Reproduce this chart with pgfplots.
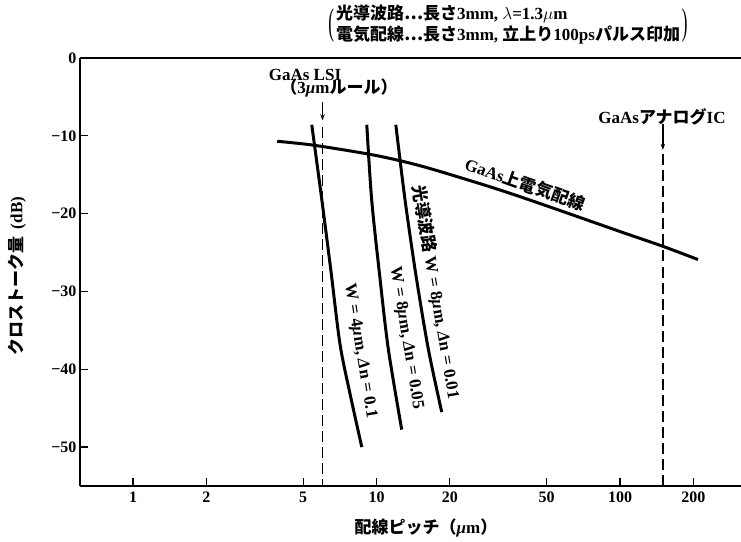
\documentclass[border=0pt]{standalone}
\usepackage{fontspec}
\setmainfont{Liberation Serif}
\newfontfamily\jp{Noto Sans CJK JP}
\usepackage{graphicx}
\usepackage{pgfplots}
\pgfplotsset{compat=1.18}
\usetikzlibrary{arrows.meta}
\newcommand{\J}[1]{{\jp\bfseries #1}}
\newcommand{\fs}{\fontsize{17}{20}\selectfont}
\newcommand{\ft}{\fontsize{16}{19}\selectfont}
\newcommand{\bigpar}[1]{\vcenter{\hbox{\scalebox{1}[2.2]{\mdseries #1}}}}
\begin{document}
\begin{tikzpicture}
\useasboundingbox (-80pt,-55pt) rectangle (661pt,486pt);
\begin{axis}[
  at={(0pt,0pt)}, anchor=south west,
  scale only axis, width=661pt, height=428pt,
  xmode=log, xmin=0.6056, xmax=314,
  ymin=-55, ymax=0,
  axis lines*=left,
  axis line style={line width=1.7pt,-},
  xtick={1,2,5,10,20,50,100,200},
  xticklabels={1,2,5,10,20,50,100,200},
  minor xtick={},
  ytick={-50,-40,-30,-20,-10,0},
  yticklabels={−50,−40,−30,−20,−10,0},
  tick align=inside,
  major tick length=8pt,
  tick style={line width=1.3pt, black},
  ticklabel style={font=\ft\bfseries},
  xticklabel style={yshift=-2pt},
  clip=false,
]
% electric wiring on GaAs
\addplot[line width=3pt, smooth, tension=0.5] coordinates {
 (3.91,-10.7) (5.5,-11.2) (9.1,-12.3) (12.5,-13.2) (17,-14.3) (31,-16.8)
 (50,-19.0) (100,-22.3) (150,-24.2) (209,-25.9)};
% optical waveguides
\addplot[line width=3pt, smooth, tension=0.5] coordinates {
 (5.42,-8.58) (5.96,-18.19) (6.50,-27.4) (7.08,-36.77) (7.79,-43.2) (8.70,-50.0)};
\addplot[line width=3pt, smooth, tension=0.5] coordinates {
 (9.12,-8.58) (9.55,-18.19) (10.29,-27.8) (11.18,-37.4) (12.69,-47.75)};
\addplot[line width=3pt, smooth, tension=0.5] coordinates {
 (12.0,-8.58) (13.09,-18.19) (14.5,-27.8) (16.32,-37.4) (18.53,-45.5)};
% markers of GaAs LSI and GaAs analog IC
\addplot[line width=1.6pt, -{Stealth[length=6pt,width=4.5pt]}] coordinates {(6,-5.6) (6,-8.0)};
\addplot[line width=1.7pt, dash pattern=on 11pt off 5pt] coordinates {(6,-8.9) (6,-55)};
\addplot[line width=1.6pt, -{Stealth[length=6pt,width=4.5pt]}] coordinates {(150,-8.5) (150,-11.8)};
\addplot[line width=1.7pt, dash pattern=on 11pt off 5pt] coordinates {(150,-12.4) (150,-55)};
\end{axis}
\draw[line width=1.8pt] (0pt,428pt) -- (661pt,428pt);
% labels
\node[font=\fs\bfseries, rotate=90] at (-63pt,210pt) {\J{クロストーク量}\, (dB)};
\node[font=\fs\bfseries] at (346pt,-42pt) {\J{配線ピッチ（}\textit{μ}m\J{）}};
\node[font=\fs\bfseries, inner sep=0pt] at (428pt,460pt) {$\bigpar{(}\mkern2mu\vcenter{\hbox{\renewcommand{\arraystretch}{1.0}\begin{tabular}{@{}l@{}}\J{光導波路…長さ}3mm, $\lambda$=1.3$\mu$m\\\J{電気配線…長さ}3mm, \J{立上り}100ps\J{パルス印加}\end{tabular}}}\mkern2mu\bigpar{)}$};
\node[font=\fs\bfseries] at (225pt,411pt) {GaAs LSI};
\node[font=\fs\bfseries] at (259pt,398pt) {\J{（}3\textit{μ}m\J{ルール）}};
\node[font=\fs\bfseries] at (582pt,369pt) {GaAs\J{アナログ}IC};
\node[font=\fs\bfseries, rotate=-19.5] at (445pt,302pt) {GaAs\J{上電気配線}};
\node[font=\fs\bfseries, rotate=-80.4] at (356pt,194pt) {\J{光導波路} W = 8\textit{μ}m, \textit{Δ}n = 0.01};
\node[font=\fs\bfseries, rotate=-80.7] at (326pt,148pt) {W = 8\textit{μ}m, \textit{Δ}n = 0.05};
\node[font=\fs\bfseries, rotate=-80.6] at (280pt,135pt) {W = 4\textit{μ}m, \textit{Δ}n = 0.1};
\end{tikzpicture}
\end{document}
